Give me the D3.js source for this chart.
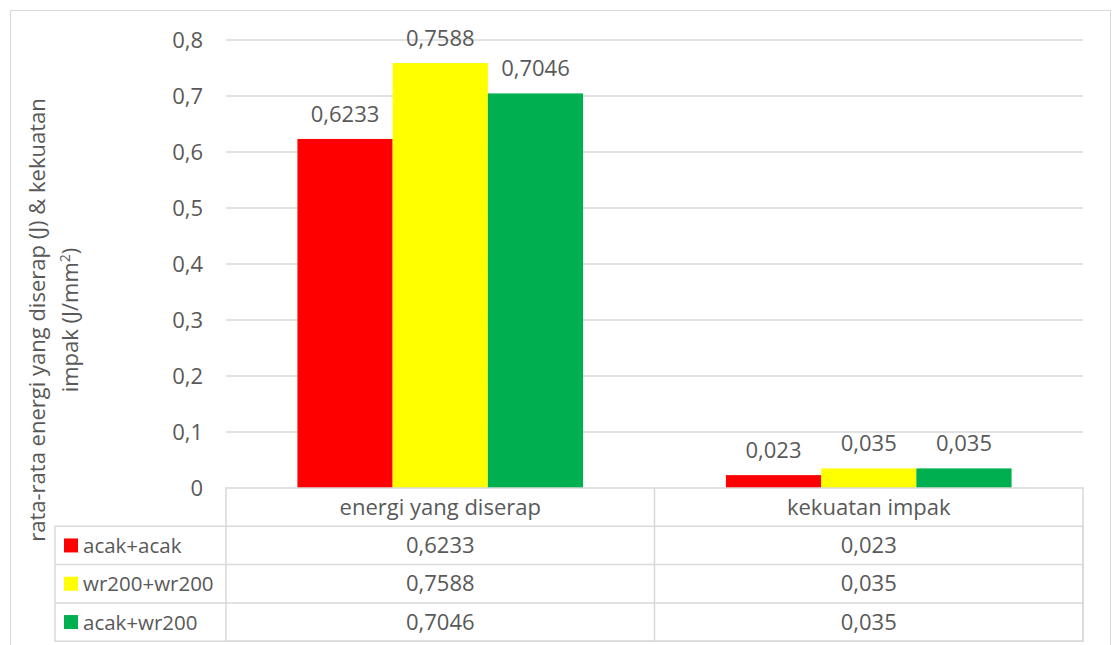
<meta charset="utf-8">
<style>
body { margin: 0; background: #fff; font-family: "Open Sans", sans-serif; }
text { fill: #595959; }
.grid line { stroke: #d9d9d9; stroke-width: 1.3; }
.tbl { stroke: #d9d9d9; stroke-width: 1.5; fill: none; }
</style>
<body>
<script src="https://cdnjs.cloudflare.com/ajax/libs/d3/7.8.5/d3.min.js"></script>
<script>

var categories = ["energi yang diserap", "kekuatan impak"];
var series = ["acak+acak", "wr200+wr200", "acak+wr200"];
var colors = ["#ff0000", "#ffff00", "#00b050"];
var acakAcak = [0.6233, 0.023];
var wr200wr200 = [0.7588, 0.035];
var acakWr200 = [0.7046, 0.035];
var valueLabels = [["0,6233", "0,023"], ["0,7588", "0,035"], ["0,7046", "0,035"]];
var yTicks = [0, 0.1, 0.2, 0.3, 0.4, 0.5, 0.6, 0.7, 0.8];

var values = [acakAcak, wr200wr200, acakWr200];

var width = 1116, height = 645;
var plotLeft = 226, plotRight = 1083, plotTop = 40, plotBottom = 488;
var rowH = 38.3, tblLeft = 55;
var fs = "22px";

var svg = d3.select("body").append("svg")
    .attr("width", width)
    .attr("height", height);

// outer chart border
svg.append("rect")
    .attr("x", 10.5).attr("y", 10.5)
    .attr("width", 1100).attr("height", 660)
    .attr("fill", "none").attr("stroke", "#d9d9d9");

var y = d3.scaleLinear().domain([0, 0.8]).range([plotBottom, plotTop]);
var x0 = d3.scaleBand().domain(categories).range([plotLeft, plotRight]);
var x1 = d3.scaleBand().domain(series).range([0, x0.bandwidth()]).paddingOuter(0.75);

var fmt = function(v) { return v == 0 ? "0" : d3.format(".1f")(v).replace(".", ","); };

svg.append("g").attr("class", "grid")
  .selectAll("line")
    .data(yTicks.filter(function(d) { return d > 0; }))
  .enter().append("line")
    .attr("x1", plotLeft).attr("x2", plotRight)
    .attr("y1", function(d) { return y(d); })
    .attr("y2", function(d) { return y(d); });

svg.append("g")
  .selectAll("text")
    .data(yTicks)
  .enter().append("text")
    .attr("x", 203)
    .attr("y", function(d) { return y(d) + 7.5; })
    .attr("text-anchor", "end")
    .style("font-size", fs)
    .text(fmt);

// bars
series.forEach(function(s, si) {
  var g = svg.append("g");
  g.selectAll("rect")
      .data(categories)
    .enter().append("rect")
      .attr("x", function(c) { return x0(c) + x1(s); })
      .attr("y", function(c, ci) { return y(values[si][ci]); })
      .attr("width", x1.bandwidth())
      .attr("height", function(c, ci) { return plotBottom - y(values[si][ci]); })
      .attr("fill", colors[si]);
  g.selectAll("text")
      .data(categories)
    .enter().append("text")
      .attr("x", function(c) { return x0(c) + x1(s) + x1.bandwidth() / 2; })
      .attr("y", function(c, ci) { return y(values[si][ci]) - 17; })
      .attr("text-anchor", "middle")
      .style("font-size", fs)
      .text(function(c, ci) { return valueLabels[si][ci]; });
});

// data table
var tbl = svg.append("g");
tbl.append("rect").attr("class", "tbl")
    .attr("x", plotLeft).attr("y", plotBottom)
    .attr("width", plotRight - plotLeft).attr("height", rowH * 4);
tbl.append("rect").attr("class", "tbl")
    .attr("x", tblLeft).attr("y", plotBottom + rowH)
    .attr("width", plotRight - tblLeft).attr("height", rowH * 3);
for (var r = 2; r < 4; r++) {
  tbl.append("line").attr("class", "tbl")
      .attr("x1", tblLeft).attr("x2", plotRight)
      .attr("y1", plotBottom + rowH * r).attr("y2", plotBottom + rowH * r);
}
tbl.append("line").attr("class", "tbl")
    .attr("x1", x0(categories[1])).attr("x2", x0(categories[1]))
    .attr("y1", plotBottom).attr("y2", plotBottom + rowH * 4);

tbl.selectAll("text.cat")
    .data(categories)
  .enter().append("text")
    .attr("x", function(c) { return x0(c) + x0.bandwidth() / 2; })
    .attr("y", plotBottom + rowH / 2 + 7.5)
    .attr("text-anchor", "middle")
    .style("font-size", fs)
    .text(function(c) { return c; });

series.forEach(function(s, si) {
  var ry = plotBottom + rowH * (si + 1);
  tbl.append("rect")
      .attr("x", 64).attr("y", ry + rowH / 2 - 7)
      .attr("width", 14).attr("height", 14)
      .attr("fill", colors[si]);
  tbl.append("text")
      .attr("x", 83).attr("y", ry + rowH / 2 + 7.5)
      .style("font-size", "20.5px")
      .text(s);
  categories.forEach(function(c, ci) {
    tbl.append("text")
        .attr("x", x0(c) + x0.bandwidth() / 2)
        .attr("y", ry + rowH / 2 + 7.5)
        .attr("text-anchor", "middle")
        .style("font-size", fs)
        .text(valueLabels[si][ci]);
  });
});

// y axis title
var title = svg.append("text")
    .attr("transform", "translate(0,320) rotate(-90)")
    .attr("text-anchor", "middle")
    .style("font-size", fs);
title.append("tspan").attr("x", 0).attr("y", 45)
    .text("rata-rata energi yang diserap (J) & kekuatan");
var t2 = title.append("tspan").attr("x", 0).attr("y", 78).text("impak (J/mm");
t2.append("tspan").attr("dy", -8).style("font-size", "14px").text("2");
t2.append("tspan").attr("dy", 8).text(")");

</script>
